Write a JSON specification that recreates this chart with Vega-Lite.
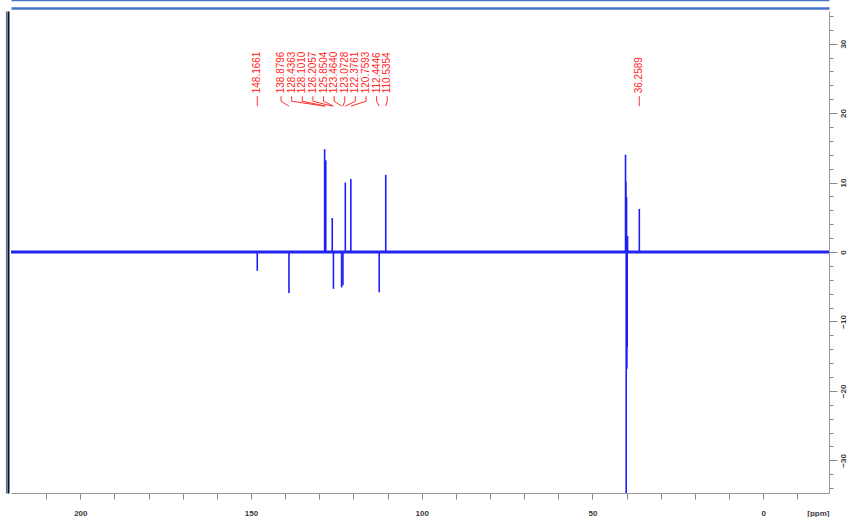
{
  "$schema": "https://vega.github.io/schema/vega-lite/v6.json",
  "width": 818,
  "height": 482,
  "padding": {"left": 6, "top": 0, "right": 0, "bottom": 0},
  "background": "white",
  "config": {
    "view": {"stroke": null},
    "axis": {"labelFont": "Liberation Sans", "labelFontSize": 8, "labelFontWeight": "bold", "labelColor": "#3a3a3a", "titleFont": "Liberation Sans", "grid": false}
  },
  "datasets": {
    "peaks": [
      {"ppm": 148.1661, "i": -2.7},
      {"ppm": 138.8796, "i": -5.9},
      {"ppm": 128.4363, "i": 14.8},
      {"ppm": 128.1010, "i": 13.2},
      {"ppm": 126.2057, "i": 4.9},
      {"ppm": 125.8504, "i": -5.3},
      {"ppm": 123.4640, "i": -5.1},
      {"ppm": 123.0728, "i": -4.8},
      {"ppm": 122.3761, "i": 10.0},
      {"ppm": 120.7593, "i": 10.5},
      {"ppm": 112.4446, "i": -5.8},
      {"ppm": 110.5354, "i": 11.1},
      {"ppm": 36.2589, "i": 6.2},
      {"ppm": 40.30, "i": 14.0},
      {"ppm": 40.20, "i": 10.1},
      {"ppm": 40.10, "i": -40},
      {"ppm": 40.00, "i": 7.9},
      {"ppm": 39.90, "i": -16.8},
      {"ppm": 39.80, "i": -13.7},
      {"ppm": 39.70, "i": 2.3}
    ],
    "picks": [
      {"ppm": 148.1661}, {"ppm": 138.8796}, {"ppm": 128.4363}, {"ppm": 128.1010},
      {"ppm": 126.2057}, {"ppm": 125.8504}, {"ppm": 123.4640}, {"ppm": 123.0728},
      {"ppm": 122.3761}, {"ppm": 120.7593}, {"ppm": 112.4446}, {"ppm": 110.5354},
      {"ppm": 36.2589}
    ],
    "base": [{"level": 0}]
  },
  "resolve": {"axis": {"x": "independent", "y": "independent"}},
  "layer": [
    {
      "data": {"name": "peaks"},
      "mark": {"type": "point", "opacity": 0, "clip": true},
      "encoding": {
        "x": {"field": "ppm", "type": "quantitative", "axis": {"orient": "top", "offset": 11, "domainColor": "#4472c4", "domainWidth": 1.5, "ticks": false, "labels": false, "title": null}},
        "y": {"field": "i", "type": "quantitative", "axis": {"orient": "left", "offset": 5, "domainColor": "#4472c4", "domainWidth": 1.2, "ticks": false, "labels": false, "title": null}}
      }
    },
    {
      "data": {"name": "peaks"},
      "mark": {"type": "point", "opacity": 0, "clip": true},
      "encoding": {
        "x": {"field": "ppm", "type": "quantitative", "axis": {"orient": "top", "offset": 3, "domainColor": "#4472c4", "domainWidth": 2.5, "ticks": false, "labels": false, "title": null}},
        "y": {"field": "i", "type": "quantitative", "axis": {"orient": "left", "offset": 3, "domainColor": "#111111", "domainWidth": 2, "ticks": false, "labels": false, "title": null}}
      }
    },
    {
      "data": {"name": "peaks"},
      "mark": {"type": "rule", "stroke": "#1e1ef5", "strokeWidth": 1.6, "clip": true},
      "encoding": {
        "x": {
          "field": "ppm", "type": "quantitative",
          "scale": {"domain": [-19.3, 220.3], "reverse": true, "nice": false, "zero": false},
          "axis": {
            "orient": "bottom",
            "values": [-10, 0, 10, 20, 30, 40, 50, 60, 70, 80, 90, 100, 110, 120, 130, 140, 150, 160, 170, 180, 190, 200, 210],
            "labelExpr": "datum.value % 50 === 0 ? datum.label : ''",
            "tickSize": 6, "tickColor": "#888888", "domainColor": "#999999",
            "labelPadding": 10, "labelFlush": false, "labelOverlap": false,
            "title": "[ppm]", "titleX": 818, "titleY": 20, "titleAlign": "right", "titleBaseline": "middle",
            "titleFontSize": 8, "titleFontWeight": "bold", "titleColor": "#3a3a3a"
          }
        },
        "y": {
          "field": "i", "type": "quantitative",
          "scale": {"domain": [-34.7, 34.7], "nice": false, "zero": false},
          "axis": {
            "orient": "right",
            "values": [-34, -32, -30, -28, -26, -24, -22, -20, -18, -16, -14, -12, -10, -8, -6, -4, -2, 0, 2, 4, 6, 8, 10, 12, 14, 16, 18, 20, 22, 24, 26, 28, 30, 32, 34],
            "labelExpr": "datum.value % 10 === 0 ? datum.label : ''",
            "tickSize": {"condition": {"test": "datum.value % 10 === 0", "value": 8}, "value": 4},
            "labelAngle": 270, "labelAlign": "center", "labelBaseline": "top", "labelPadding": 2,
            "labelOverlap": false, "labelFlush": false,
            "tickColor": "#888888", "domainColor": "#999999", "title": null
          }
        },
        "y2": {"datum": 0}
      }
    },
    {
      "data": {"name": "base"},
      "mark": {"type": "rule", "stroke": "#2424f0", "strokeWidth": 3},
      "encoding": {"y": {"field": "level", "type": "quantitative", "axis": null}}
    },
    {
      "data": {"name": "picks"},
      "transform": [
        {"window": [{"op": "row_number", "as": "rank"}], "sort": [{"field": "ppm", "order": "descending"}]},
        {"calculate": "datum.rank >= 2 && datum.rank <= 12 ? 141.2 - (datum.rank - 2) * 3.11 : datum.ppm", "as": "pos"},
        {"calculate": "format(datum.ppm, '.4f')", "as": "label"}
      ],
      "layer": [
        {
          "mark": {"type": "text", "angle": 270, "align": "left", "baseline": "middle", "font": "Liberation Sans", "fontSize": 10, "fill": "#ff2424"},
          "encoding": {
            "x": {"field": "pos", "type": "quantitative", "axis": null},
            "y": {"datum": 22.85, "axis": null},
            "text": {"field": "label"}
          }
        },
        {
          "mark": {"type": "rule", "stroke": "#ff3030", "strokeWidth": 1},
          "encoding": {
            "x": {"field": "pos", "type": "quantitative", "axis": null},
            "y": {"datum": 22.43, "axis": null},
            "y2": {"datum": 21.71}
          }
        },
        {
          "mark": {"type": "rule", "stroke": "#ff3030", "strokeWidth": 1},
          "encoding": {
            "x": {"field": "pos", "type": "quantitative", "axis": null},
            "x2": {"field": "ppm"},
            "y": {"datum": 21.71, "axis": null},
            "y2": {"datum": 21.0}
          }
        }
      ]
    }
  ]
}
